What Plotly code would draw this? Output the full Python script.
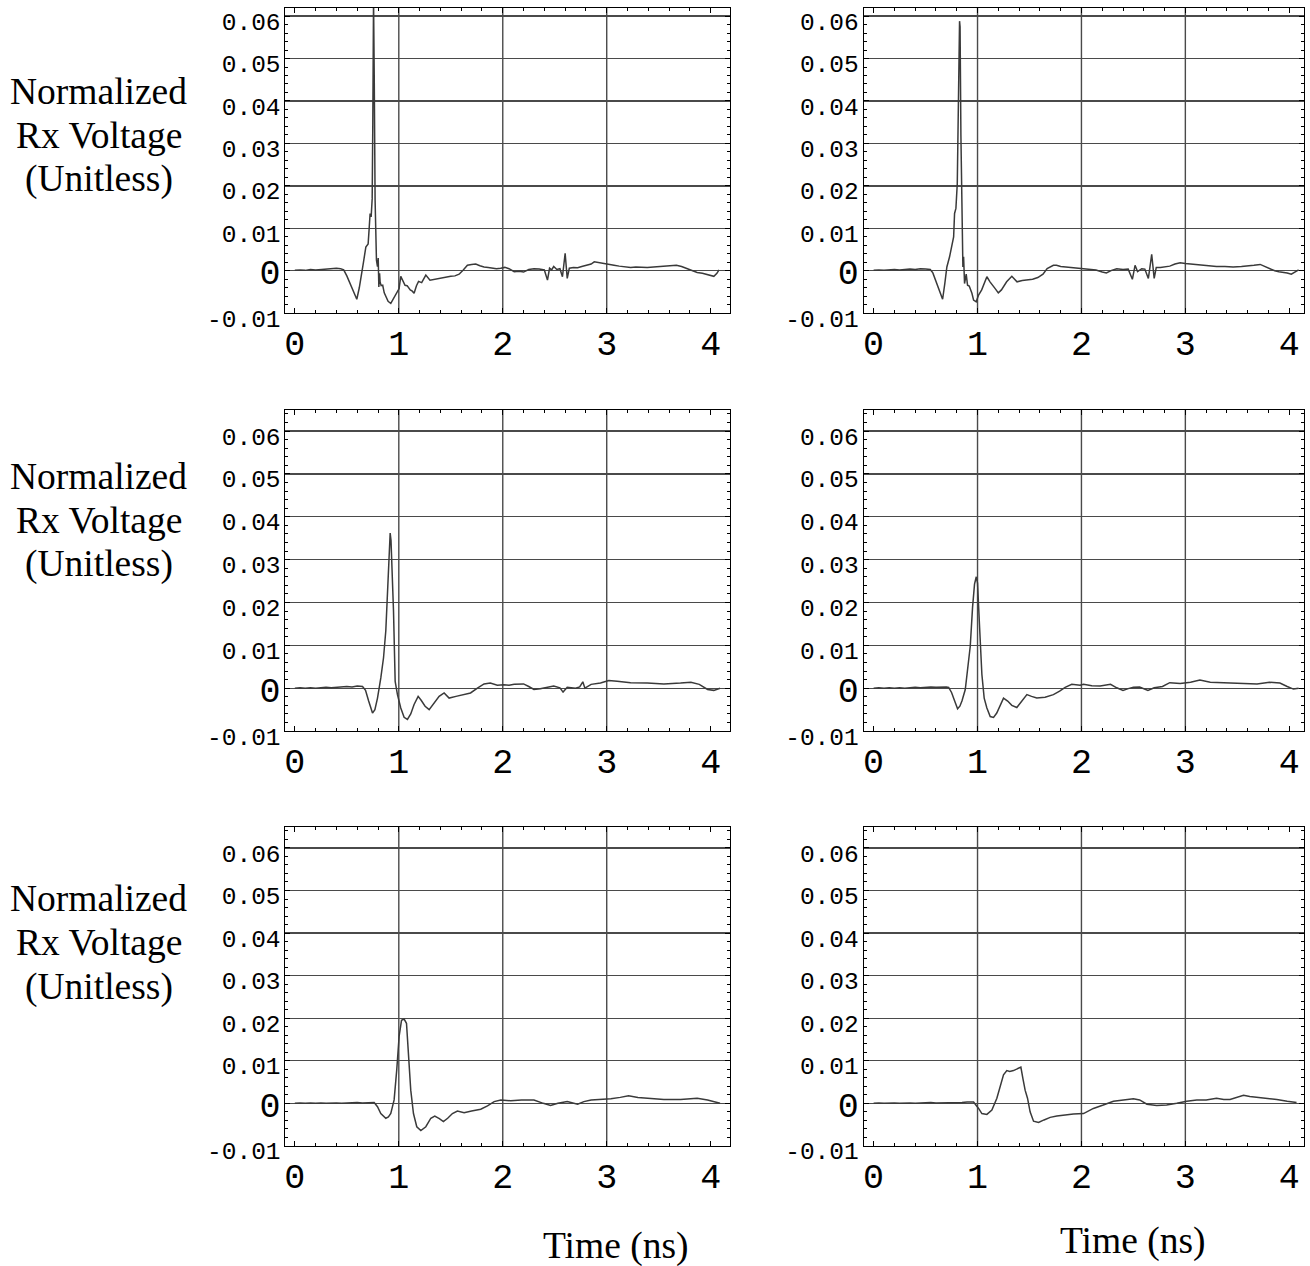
import plotly.graph_objects as go

# ---------------- data (time in ns, normalized Rx voltage) ----------------
T_A = [0.00, 0.05, 0.10, 0.15, 0.20, 0.25, 0.30, 0.35, 0.40, 0.44, 0.47, 0.50, 0.53, 0.56, 0.596, 0.62, 0.64, 0.66,
       0.683, 0.705, 0.715, 0.724, 0.734, 0.744, 0.750, 0.757, 0.764, 0.772, 0.785, 0.795, 0.802, 0.808, 0.815, 0.82,
       0.83, 0.845, 0.86, 0.875, 0.897, 0.923, 0.94, 0.97, 1.003, 1.019, 1.035, 1.06, 1.08, 1.11, 1.13, 1.147, 1.17,
       1.19, 1.22, 1.26, 1.30, 1.34, 1.38, 1.42, 1.46, 1.50, 1.54, 1.58, 1.62, 1.66, 1.70, 1.74, 1.78, 1.82, 1.86,
       1.90, 1.94, 1.98, 2.02, 2.06, 2.11, 2.16, 2.20, 2.25, 2.30, 2.35, 2.40, 2.43, 2.45, 2.47, 2.49, 2.52, 2.55,
       2.574, 2.585, 2.60, 2.62, 2.64, 2.68, 2.72, 2.76, 2.81, 2.85, 2.88, 2.92, 2.97, 3.02, 3.07, 3.12, 3.18, 3.23,
       3.28, 3.34, 3.39, 3.45, 3.50, 3.56, 3.62, 3.67, 3.72, 3.77, 3.82, 3.87, 3.92, 3.96, 3.99, 4.03, 4.06, 4.08]
V_A = [0.0001, 0.0002, 0.0001, 0.0003, 0.0002, 0.0003, 0.0004, 0.0004, 0.0006, 0.0005, 0.0002, -0.0012, -0.0030,
       -0.0050, -0.0067, -0.0040, -0.0014, 0.0020, 0.0056, 0.0063, 0.0100, 0.0135, 0.0127, 0.0170, 0.0350, 0.0640,
       0.0450, 0.0166, 0.0025, 0.0010, 0.0030, -0.0038, -0.0006, -0.0026, -0.0035, -0.0034, -0.0052, -0.0060,
       -0.0072, -0.0077, -0.0070, -0.0055, -0.0042, -0.0013, -0.0022, -0.0034, -0.0035, -0.0045, -0.0048, -0.0053,
       -0.0035, -0.0025, -0.0028, -0.0010, -0.0022, -0.0020, -0.0018, -0.0017, -0.0015, -0.0013, -0.0012, -0.0008,
       0.0002, 0.0013, 0.0015, 0.0016, 0.0012, 0.0009, 0.0008, 0.0007, 0.0005, 0.0006, 0.0008, 0.0005, -0.0002,
       -0.0001, -0.0003, 0.0003, 0.0005, 0.0004, 0.0002, -0.0022, 0.0006, 0.0002, 0.0010, 0.0003, 0.0005, -0.0014,
       0.0005, 0.0041, -0.0018, 0.0006, 0.0008, 0.0007, 0.0010, 0.0013, 0.0016, 0.0021, 0.0019, 0.0017, 0.0015,
       0.0013, 0.0011, 0.0010, 0.0008, 0.0009, 0.0008, 0.0008, 0.0009, 0.0010, 0.0011, 0.0012, 0.0013, 0.0010,
       0.0005, 0.0000, -0.0004, -0.0006, -0.0009, -0.0010, -0.0013, -0.0006, 0.0002]

T_B = [0.00, 0.05, 0.10, 0.15, 0.20, 0.25, 0.30, 0.35, 0.40, 0.45, 0.50, 0.545, 0.57, 0.60, 0.63, 0.664, 0.685, 0.705,
       0.731, 0.753, 0.77, 0.779, 0.792, 0.805, 0.817, 0.827, 0.832, 0.840, 0.850, 0.859, 0.866, 0.875, 0.891, 0.904,
       0.92, 0.946, 0.962, 0.987, 1.01, 1.04, 1.09, 1.12, 1.17, 1.20, 1.23, 1.28, 1.33, 1.38, 1.43, 1.48, 1.53, 1.58,
       1.63, 1.67, 1.73, 1.76, 1.80, 1.85, 1.89, 1.95, 2.02, 2.08, 2.14, 2.20, 2.24, 2.29, 2.34, 2.40, 2.45, 2.49,
       2.516, 2.54, 2.58, 2.61, 2.644, 2.660, 2.676, 2.70, 2.72, 2.76, 2.80, 2.85, 2.90, 2.95, 3.00, 3.05, 3.10, 3.16,
       3.24, 3.30, 3.38, 3.46, 3.54, 3.60, 3.66, 3.72, 3.77, 3.82, 3.86, 3.90, 3.94, 3.98, 4.02, 4.05, 4.09]
V_B = [0.0001, 0.0002, 0.0001, 0.0002, 0.0003, 0.0002, 0.0003, 0.0004, 0.0003, 0.0005, 0.0004, 0.0003, -0.0005,
       -0.0025, -0.0048, -0.0067, -0.0030, 0.0009, 0.0033, 0.0060, 0.0080, 0.0135, 0.0147, 0.0205, 0.0400, 0.0588,
       0.0575, 0.0320, 0.0096, 0.0009, 0.0033, -0.0030, -0.0008, -0.0034, -0.0036, -0.0053, -0.0069, -0.0073,
       -0.0057, -0.0045, -0.0014, -0.0026, -0.0042, -0.0052, -0.0045, -0.0026, -0.0013, -0.0026, -0.0023, -0.0022,
       -0.0020, -0.0016, -0.0008, 0.0005, 0.0013, 0.0013, 0.0010, 0.0009, 0.0008, 0.0006, 0.0005, 0.0003, 0.0002,
       -0.0003, -0.0005, 0.0001, 0.0005, 0.0003, 0.0004, -0.0020, 0.0013, -0.0002, 0.0005, 0.0004, -0.0018, 0.0010,
       0.0039, -0.0018, 0.0008, 0.0008, 0.0010, 0.0011, 0.0016, 0.0019, 0.0017, 0.0016, 0.0014, 0.0013, 0.0011,
       0.0010, 0.0010, 0.0009, 0.0010, 0.0011, 0.0013, 0.0015, 0.0010, 0.0004, 0.0000, -0.0002, -0.0003, -0.0005,
       -0.0008, -0.0004, 0.0002]

T_C = [0.00, 0.05, 0.10, 0.15, 0.20, 0.25, 0.30, 0.35, 0.40, 0.45, 0.50, 0.55, 0.60, 0.651, 0.68, 0.71, 0.747, 0.77,
       0.795, 0.827, 0.853, 0.875, 0.897, 0.917, 0.925, 0.935, 0.949, 0.965, 0.987, 1.019, 1.051, 1.083, 1.115, 1.147,
       1.186, 1.215, 1.253, 1.292, 1.34, 1.388, 1.436, 1.484, 1.55, 1.628, 1.69, 1.756, 1.82, 1.88, 1.948, 2.01, 2.06,
       2.11, 2.20, 2.25, 2.30, 2.36, 2.42, 2.49, 2.55, 2.58, 2.62, 2.70, 2.74, 2.77, 2.79, 2.85, 2.94, 3.02, 3.10,
       3.23, 3.39, 3.55, 3.71, 3.81, 3.89, 3.97, 4.03, 4.09]
V_C = [0.0000, 0.0001, 0.0000, 0.0001, 0.0000, 0.0001, 0.0002, 0.0001, 0.0002, 0.0003, 0.0004, 0.0003, 0.0005,
       0.0004, -0.0005, -0.0030, -0.0058, -0.0050, -0.0023, 0.0024, 0.0071, 0.0134, 0.0259, 0.0362, 0.0345, 0.0280,
       0.0180, 0.0016, -0.0015, -0.0046, -0.0068, -0.0073, -0.0060, -0.0038, -0.0019, -0.0028, -0.0042, -0.0050,
       -0.0035, -0.0019, -0.0011, -0.0023, -0.0019, -0.0015, -0.0011, 0.0000, 0.0010, 0.0012, 0.0007, 0.0008,
       0.0007, 0.0009, 0.0010, 0.0004, -0.0003, -0.0001, 0.0001, 0.0005, 0.0001, -0.0009, 0.0002, 0.0000, 0.0003,
       0.0015, 0.0000, 0.0009, 0.0012, 0.0018, 0.0016, 0.0013, 0.0012, 0.0010, 0.0012, 0.0014, 0.0009, -0.0003,
       -0.0005, 0.0000]

T_D = [0.00, 0.05, 0.10, 0.15, 0.20, 0.25, 0.30, 0.35, 0.40, 0.45, 0.50, 0.55, 0.60, 0.65, 0.70, 0.722, 0.75, 0.78,
       0.808, 0.83, 0.85, 0.882, 0.907, 0.930, 0.952, 0.971, 0.988, 1.000, 1.020, 1.042, 1.064, 1.09, 1.122, 1.154,
       1.185, 1.218, 1.25, 1.29, 1.33, 1.378, 1.425, 1.475, 1.52, 1.57, 1.65, 1.73, 1.79, 1.843, 1.907, 1.987, 2.02,
       2.10, 2.18, 2.28, 2.34, 2.40, 2.45, 2.50, 2.56, 2.64, 2.70, 2.78, 2.85, 2.95, 3.05, 3.14, 3.24, 3.40, 3.56,
       3.69, 3.81, 3.91, 3.98, 4.04, 4.09]
V_D = [0.0000, 0.0001, 0.0000, 0.0001, 0.0000, 0.0001, 0.0000, 0.0001, 0.0002, 0.0001, 0.0002, 0.0003, 0.0002,
       0.0003, 0.0003, 0.0002, -0.0010, -0.0030, -0.0048, -0.0042, -0.0030, -0.0003, 0.0048, 0.0098, 0.0188, 0.0243,
       0.0260, 0.0245, 0.0141, 0.0032, -0.0023, -0.0046, -0.0066, -0.0068, -0.0058, -0.0038, -0.0023, -0.0030,
       -0.0040, -0.0045, -0.0030, -0.0015, -0.0019, -0.0023, -0.0021, -0.0015, -0.0007, 0.0002, 0.0009, 0.0007,
       0.0009, 0.0006, 0.0005, 0.0009, 0.0001, -0.0005, -0.0001, 0.0002, 0.0003, -0.0005, 0.0001, 0.0004, 0.0013,
       0.0011, 0.0014, 0.0019, 0.0014, 0.0013, 0.0011, 0.0010, 0.0014, 0.0012, 0.0004, -0.0002, 0.0000]

T_E = [0.00, 0.05, 0.10, 0.15, 0.20, 0.25, 0.30, 0.35, 0.40, 0.45, 0.50, 0.55, 0.60, 0.65, 0.70, 0.763, 0.795, 0.827,
       0.875, 0.90, 0.923, 0.955, 0.980, 1.003, 1.026, 1.051, 1.074, 1.093, 1.115, 1.141, 1.173, 1.212, 1.26, 1.308,
       1.346, 1.39, 1.429, 1.47, 1.516, 1.564, 1.628, 1.70, 1.788, 1.853, 1.917, 1.981, 2.077, 2.18, 2.30, 2.39, 2.46,
       2.53, 2.62, 2.72, 2.78, 2.85, 2.94, 3.04, 3.13, 3.21, 3.30, 3.42, 3.55, 3.71, 3.87, 3.97, 4.03, 4.09]
V_E = [0.0000, 0.0001, 0.0000, 0.0001, 0.0000, 0.0001, 0.0000, 0.0001, 0.0001, 0.0000, 0.0001, 0.0001, 0.0002,
       0.0001, 0.0002, 0.0002, -0.0008, -0.0024, -0.0035, -0.0032, -0.0024, 0.0008, 0.0078, 0.0157, 0.0195, 0.0198,
       0.0188, 0.0125, 0.0031, -0.0024, -0.0055, -0.0064, -0.0055, -0.0035, -0.0030, -0.0036, -0.0043, -0.0035,
       -0.0024, -0.0018, -0.0022, -0.0018, -0.0014, -0.0006, 0.0004, 0.0008, 0.0006, 0.0008, 0.0008, 0.0000,
       -0.0005, 0.0000, 0.0004, -0.0002, 0.0004, 0.0008, 0.0009, 0.0011, 0.0014, 0.0018, 0.0014, 0.0012, 0.0009,
       0.0009, 0.0012, 0.0008, 0.0004, 0.0000]

T_F = [0.00, 0.05, 0.10, 0.15, 0.20, 0.25, 0.30, 0.35, 0.40, 0.45, 0.50, 0.55, 0.60, 0.65, 0.70, 0.75, 0.80, 0.85,
       0.90, 0.962, 1.01, 1.042, 1.09, 1.138, 1.186, 1.225, 1.25, 1.282, 1.31, 1.346, 1.394, 1.417, 1.436, 1.458,
       1.481, 1.506, 1.539, 1.587, 1.64, 1.699, 1.763, 1.843, 1.923, 2.02, 2.115, 2.21, 2.308, 2.404, 2.50, 2.56,
       2.63, 2.724, 2.82, 2.917, 3.013, 3.11, 3.20, 3.30, 3.37, 3.43, 3.49, 3.56, 3.62, 3.75, 3.88, 3.98, 4.07]
V_F = [0.0000, 0.0001, 0.0000, 0.0001, 0.0001, 0.0000, 0.0001, 0.0001, 0.0000, 0.0001, 0.0001, 0.0002, 0.0001,
       0.0001, 0.0002, 0.0001, 0.0002, 0.0002, 0.0003, 0.0003, -0.0012, -0.0024, -0.0026, -0.0016, 0.0012, 0.0047,
       0.0067, 0.0077, 0.0075, 0.0077, 0.0082, 0.0085, 0.0059, 0.0031, 0.0012, -0.0020, -0.0042, -0.0045, -0.0039,
       -0.0033, -0.0030, -0.0027, -0.0025, -0.0024, -0.0012, -0.0004, 0.0005, 0.0008, 0.0011, 0.0008, -0.0002,
       -0.0005, -0.0004, 0.0000, 0.0005, 0.0008, 0.0008, 0.0012, 0.0009, 0.0009, 0.0014, 0.0019, 0.0016, 0.0013,
       0.0009, 0.0005, 0.0002]

X_TICKS = [0, 1, 2, 3, 4]
X_TICK_TEXT = ["0", "1", "2", "3", "4"]
Y_TICKS = [-0.01, 0.0, 0.01, 0.02, 0.03, 0.04, 0.05, 0.06]
Y_TICK_TEXT = ["-0.01", "0", "0.01", "0.02", "0.03", "0.04", "0.05", "0.06"]
GRID_X = [1, 2, 3]
Y_LABEL_LINES = ["Normalized", "Rx Voltage", "(Unitless)"]
X_LABEL = "Time (ns)"

PANELS = [(T_A, V_A), (T_B, V_B), (T_C, V_C), (T_D, V_D), (T_E, V_E), (T_F, V_F)]

# ---------------- layout geometry (target picture pixels, 1310 x 1266) ----------------
REF_W, REF_H = 1310, 1266
W, H = 1310, 1288          # rendered viewport (picture is scaled back to 1266 tall)
COL_PX = [(284.7, 730.0), (863.3, 1303.5)]
ROW_PX = [(8.0, 313.0), (409.3, 730.5), (826.0, 1145.0)]
X_RANGES = [[-0.09, 4.19], [-0.096, 4.137]]
Y_RANGES = [[-0.01, 0.0619], [-0.01, 0.065], [-0.01, 0.065]]
LABEL_X = 98
LABEL_Y = [[91, 135, 179], [476, 520, 564], [898, 942, 986]]
XLABEL_POS = [(615, 1245), (1133, 1240)]


def fx(px):
    return min(1.0, max(0.0, px / REF_W))


def fy(py):
    return min(1.0, max(0.0, 1 - py / REF_H))


LINE_COLOR = "#3a3a3a"
GRID_COLOR = "#4a4a4a"
MONO = "Liberation Mono, Courier New, monospace"
Y_TICK_FONT = dict(family=MONO, size=24.5, color="black")
X_TICK_FONT = dict(family=MONO, size=35, color="black")
LABEL_FONT = dict(family="Liberation Serif, Times New Roman, serif", size=37.5, color="black")
BIG_ZERO = "<span style='font-size:35px'>0</span>"
Y_TICK_SHOWN = [BIG_ZERO if s == "0" else s for s in Y_TICK_TEXT]

fig = go.Figure()
layout = dict(width=W, height=H, margin=dict(l=0, r=0, t=0, b=0),
              paper_bgcolor="white", plot_bgcolor="white", showlegend=False)
shapes = []
annotations = []

for i, (t, v) in enumerate(PANELS):
    n = i + 1
    row, col = divmod(i, 2)
    x0, x1 = COL_PX[col]
    ytop, ybot = ROW_PX[row]
    xs = "" if n == 1 else str(n)
    fig.add_trace(go.Scatter(x=t, y=v, mode="lines",
                             line=dict(color=LINE_COLOR, width=1.5),
                             xaxis="x" + xs, yaxis="y" + xs, hoverinfo="skip"))
    layout["xaxis" + xs] = dict(
        domain=[fx(x0), fx(x1)], range=X_RANGES[col], anchor="y" + xs,
        tickmode="array", tickvals=X_TICKS, ticktext=X_TICK_TEXT,
        ticks="inside", ticklen=5, tickcolor="black", tickwidth=1,
        showline=True, linecolor="black", linewidth=1, mirror="allticks",
        showgrid=False, zeroline=False, tickfont=X_TICK_FONT, ticklabelstandoff=-1,
        ticklabeloverflow="allow",
        minor=dict(tickmode="linear", tick0=0, dtick=0.2, ticks="inside", ticklen=3,
                   tickcolor="black", showgrid=False),
        fixedrange=True)
    layout["yaxis" + xs] = dict(
        domain=[fy(ybot), fy(ytop)], range=Y_RANGES[row], anchor="x" + xs,
        tickmode="array", tickvals=Y_TICKS, ticktext=Y_TICK_SHOWN,
        ticks="inside", ticklen=5, tickcolor="black", tickwidth=1,
        showline=True, linecolor="black", linewidth=1, mirror="allticks",
        showgrid=True, gridcolor=GRID_COLOR, gridwidth=1.4, zeroline=False,
        tickfont=Y_TICK_FONT, ticklabelstandoff=-1, ticklabelshift=5,
        ticklabeloverflow="allow",
        minor=dict(tickmode="linear", tick0=0, dtick=0.002, ticks="inside", ticklen=3,
                   tickcolor="black", showgrid=False),
        fixedrange=True)
    for g in GRID_X:
        shapes.append(dict(type="line", xref="x" + xs, yref="y" + xs + " domain",
                           x0=g, x1=g, y0=0, y1=1, layer="below",
                           line=dict(color=GRID_COLOR, width=1.4)))
    if col == 0:
        for text, ly in zip(Y_LABEL_LINES, LABEL_Y[row]):
            annotations.append(dict(text=text, xref="paper", yref="paper",
                                    x=fx(LABEL_X), y=fy(ly), xanchor="center", yanchor="middle",
                                    showarrow=False, font=LABEL_FONT))

for (lx, ly) in XLABEL_POS:
    annotations.append(dict(text=X_LABEL, xref="paper", yref="paper", x=fx(lx), y=fy(ly),
                            xanchor="center", yanchor="middle", showarrow=False, font=LABEL_FONT))

layout["shapes"] = shapes
layout["annotations"] = annotations
fig.update_layout(**layout)
fig.write_html(
    "out.html",
    config={"displayModeBar": False, "staticPlot": True},
    post_script=("document.documentElement.style.margin='0';document.body.style.margin='0';"
                 "document.documentElement.style.overflow='hidden';document.body.style.overflow='hidden';"
                 "var d=document.getElementById('{plot_id}');d.style.position='fixed';"
                 "d.style.left='0px';d.style.top='0px';"),
)
